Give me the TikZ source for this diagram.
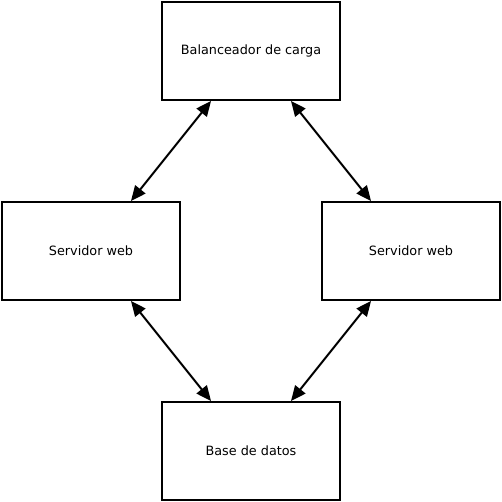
\documentclass[tikz,border=0pt]{standalone}
\usepackage{fontspec}
\setmainfont{DejaVu Sans}
\usetikzlibrary{arrows.meta}

\tikzset{
  caja/.style={draw, line width=2pt, minimum width=178pt, minimum height=98pt,
    font=\fontsize{12.8}{15}\selectfont},
  flecha/.style={line width=2pt, {Triangle[length=15pt,width=13pt]}-{Triangle[length=15pt,width=13pt]}}
}

\begin{document}
\begin{tikzpicture}[x=1pt, y=-1pt]
    \useasboundingbox (0,0) rectangle (502,502);
    % cajas
    \node[caja] (lb) at (251,51) {Balanceador de carga};
    \node[caja] (sw1) at (91,251) {Servidor web};
    \node[caja] (sw2) at (411,251) {Servidor web};
    \node[caja] (db) at (251,451) {Base de datos};
    % flechas entre cajas
    \draw[flecha] ([xshift=-40pt]lb.south) -- ([xshift=40pt]sw1.north);
    \draw[flecha] ([xshift=40pt]lb.south) -- ([xshift=-40pt]sw2.north);
    \draw[flecha] ([xshift=40pt]sw1.south) -- ([xshift=-40pt]db.north);
    \draw[flecha] ([xshift=-40pt]sw2.south) -- ([xshift=40pt]db.north);
\end{tikzpicture}
\end{document}
